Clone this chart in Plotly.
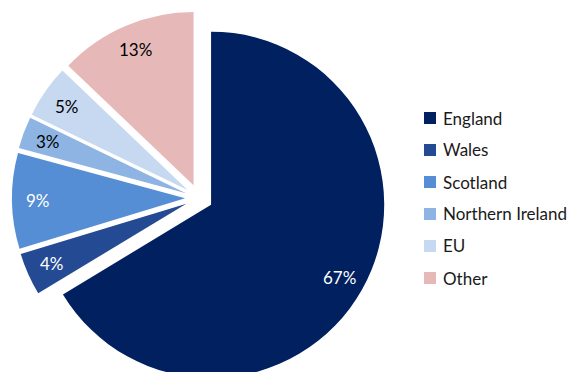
import math
import plotly.graph_objects as go

# Share of students by home nation / origin (percent)
categories = ["England", "Wales", "Scotland", "Northern Ireland", "EU", "Other"]
shares = [67, 4, 9, 3, 5, 13]
colors = ["#002060", "#254A94", "#558ED5", "#8EB4E3", "#C6D9F1", "#E6B9B8"]
label_colors = ["white", "white", "white", "black", "black", "black"]

FONT = "Lato"
W, H = 570, 385
TOP = 11                     # top margin (px)
PULL = 0.08                  # every slice is exploded by the same fraction
DOM_X = [0, 398 / W]

fig = go.Figure(
    go.Pie(
        labels=categories,
        values=shares,
        sort=False,
        direction="clockwise",
        rotation=0,
        pull=[PULL] * len(shares),
        marker=dict(colors=colors, line=dict(width=0)),
        textinfo="none",
        domain=dict(x=DOM_X, y=[0, 1]),
        showlegend=False,
        hoverinfo="label+value",
    )
)

# Pie geometry as plotly lays it out (centre and radius in px)
box_w = W * (DOM_X[1] - DOM_X[0])
box_h = H - TOP
cx = W * (DOM_X[0] + DOM_X[1]) / 2
cy = TOP + box_h / 2
r = min(box_w, box_h) / 2 / (1 + PULL)

# Value labels, placed near the rim along each slice's bisector
total = sum(shares)
cum = 0
for v, tc in zip(shares, label_colors):
    mid = 2 * math.pi * (cum + v / 2) / total
    cum += v
    dist = r * (PULL + 0.85)
    px = cx + dist * math.sin(mid)
    py = cy - dist * math.cos(mid)
    fig.add_annotation(
        text=f"{v}%", xref="paper", yref="paper",
        x=px / W, y=1 - (py - TOP) / box_h,
        xanchor="center", yanchor="middle", showarrow=False,
        font=dict(family=FONT, size=17, color=tc),
    )

# Legend: colour swatch + category name, stacked down the right side
leg_x0, leg_y0, leg_step, sw = 424, 118, 32.0, 12
for i, (name, col) in enumerate(zip(categories, colors)):
    yc = leg_y0 + i * leg_step
    fig.add_shape(
        type="rect", xref="paper", yref="paper",
        x0=leg_x0 / W, x1=(leg_x0 + sw) / W,
        y0=1 - (yc + sw / 2 - TOP) / box_h, y1=1 - (yc - sw / 2 - TOP) / box_h,
        fillcolor=col, line=dict(width=0),
    )
    fig.add_annotation(
        text=name, xref="paper", yref="paper",
        x=(leg_x0 + sw + 5) / W, y=1 - (yc - TOP) / box_h,
        xanchor="left", yanchor="middle", showarrow=False,
        font=dict(family=FONT, size=17, color="#1a1a1a"),
    )

fig.update_layout(
    width=W, height=H,
    margin=dict(l=0, r=0, t=TOP, b=0),
    paper_bgcolor="white", plot_bgcolor="white",
)

fig.write_html(
    "out.html",
    post_script="document.documentElement.style.overflow='hidden';document.body.style.overflow='hidden';",
)
